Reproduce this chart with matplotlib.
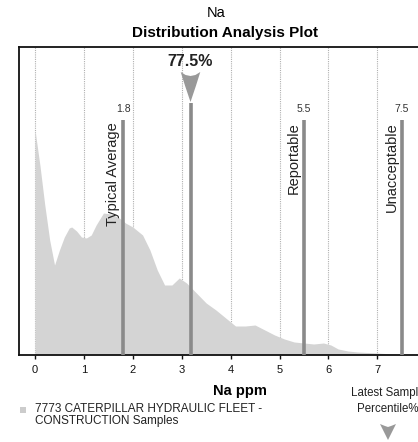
import matplotlib
matplotlib.use("Agg")
import matplotlib.pyplot as plt
from matplotlib.patches import Polygon, Rectangle

plt.rcParams['font.family'] = ['Liberation Sans', 'DejaVu Sans']

# distribution (x in ppm, relative density)
dist_x = [0.0, 0.1, 0.2, 0.3, 0.4, 0.5, 0.6, 0.7, 0.75, 0.85, 0.95, 1.05, 1.15, 1.25,
          1.4, 1.55, 1.7, 1.85, 2.0, 2.2, 2.35, 2.5, 2.65, 2.8, 2.95, 3.1, 3.3, 3.5,
          3.7, 3.9, 4.1, 4.3, 4.5, 4.7, 4.9, 5.1, 5.3, 5.5, 5.7, 5.9, 6.05, 6.2, 6.4,
          6.6, 7.0, 7.3, 7.6]
dist_y = [225, 190, 150, 115, 90, 105, 118, 127, 128, 124, 118, 117, 120, 130,
          142, 141, 138, 132, 128, 120, 105, 85, 70, 70, 77, 72, 62, 52,
          45, 37, 29, 29, 30, 25, 20, 16, 13, 12, 11, 12, 10, 6, 4,
          3, 2, 1, 0]

thresholds = [1.8, 5.5, 7.5]
threshold_labels = ["Typical Average", "Reportable", "Unacceptable"]
threshold_text = ["1.8", "5.5", "7.5"]
latest_value = 3.18
latest_pct = "77.5%"
xticks = [0, 1, 2, 3, 4, 5, 6, 7]

W, H = 418, 442
fig = plt.figure(figsize=(W / 100, H / 100), dpi=100)
px_per_unit = 48.9
x0_px = 35
left_px, right_px = 19, 460
ax = fig.add_axes([left_px / W, 1 - 355 / H, (right_px - left_px) / W, (355 - 47) / H])
ax.set_xlim((left_px - x0_px) / px_per_unit, (right_px - x0_px) / px_per_unit)
ax.set_ylim(0, 308)

for t in xticks:
    ax.axvline(t, color='#b0b0b0', lw=0.8, ls=(0, (1, 1)), zorder=1)

ax.fill_between(dist_x, dist_y, 0, color='#d4d4d4', lw=0, zorder=2)

for xv, lab, txt in zip(thresholds, threshold_labels, threshold_text):
    ax.plot([xv, xv], [0, 235], color='#8a8a8a', lw=2.6, zorder=3, solid_capstyle='butt')
    ax.text(xv, 246, txt, ha='center', va='center', fontsize=7.5, color='#333333', zorder=4)
    ax.text(xv - 0.06, 233, lab, rotation=90, ha='right', va='top', fontsize=10.5,
            color='#222222', zorder=4)

# latest sample marker
ax.plot([latest_value, latest_value], [0, 252], color='#8a8a8a', lw=2.6, zorder=3,
        solid_capstyle='butt')
w = 0.2
top = 283
tip = 253
arrow = [(latest_value - w, top), (latest_value - w * 0.5, top - 3), (latest_value, top - 4),
         (latest_value + w * 0.5, top - 3), (latest_value + w, top),
         (latest_value + 0.11, top - 14), (latest_value, tip),
         (latest_value - 0.11, top - 14)]
ax.add_patch(Polygon(arrow, closed=True, color='#999999', lw=0, zorder=4))
ax.text(latest_value, 294, latest_pct, ha='center', va='center', fontsize=11.5,
        fontweight='bold', color='#222222')

ax.spines['right'].set_visible(False)
for s in ['left', 'top', 'bottom']:
    ax.spines[s].set_linewidth(1.3)
    ax.spines[s].set_color('#111111')
ax.set_yticks([])
ax.set_xticks(xticks)
ax.tick_params(axis='x', length=3, width=1, labelsize=8, pad=4, colors='#111111')
ax.set_xlabel("Na ppm", fontsize=10.5, fontweight='bold', labelpad=7)

fig.text(216 / W, 1 - 13 / H, "Na", ha='center', va='center', fontsize=10.5)
fig.text(225 / W, 1 - 33 / H, "Distribution Analysis Plot", ha='center', va='center',
         fontsize=11, fontweight='bold')

# legend
fig.patches.append(Rectangle((20 / W, 1 - 413 / H), 6 / W, 6 / H, transform=fig.transFigure,
                             color='#cccccc', lw=0))
fig.text(35 / W, 1 - 403 / H, "7773 CATERPILLAR HYDRAULIC FLEET -\nCONSTRUCTION Samples",
         ha='left', va='top', fontsize=8.5, linespacing=0.95, color='#222222')
fig.text(388 / W, 1 - 401 / H, "Latest Sample\nPercentile%", ha='center', va='center',
         fontsize=8.3, linespacing=1.35, color='#222222')
cx = 388
tri = [((cx - 8) / W, 1 - 424 / H), ((cx - 3) / W, 1 - 426 / H), (cx / W, 1 - 427 / H),
       ((cx + 3) / W, 1 - 426 / H), ((cx + 8) / W, 1 - 424 / H),
       ((cx + 4) / W, 1 - 432 / H), (cx / W, 1 - 440 / H), ((cx - 4) / W, 1 - 432 / H)]
fig.patches.append(Polygon(tri, closed=True, transform=fig.transFigure, color='#999999', lw=0))

fig.savefig("out.png", dpi=100)
